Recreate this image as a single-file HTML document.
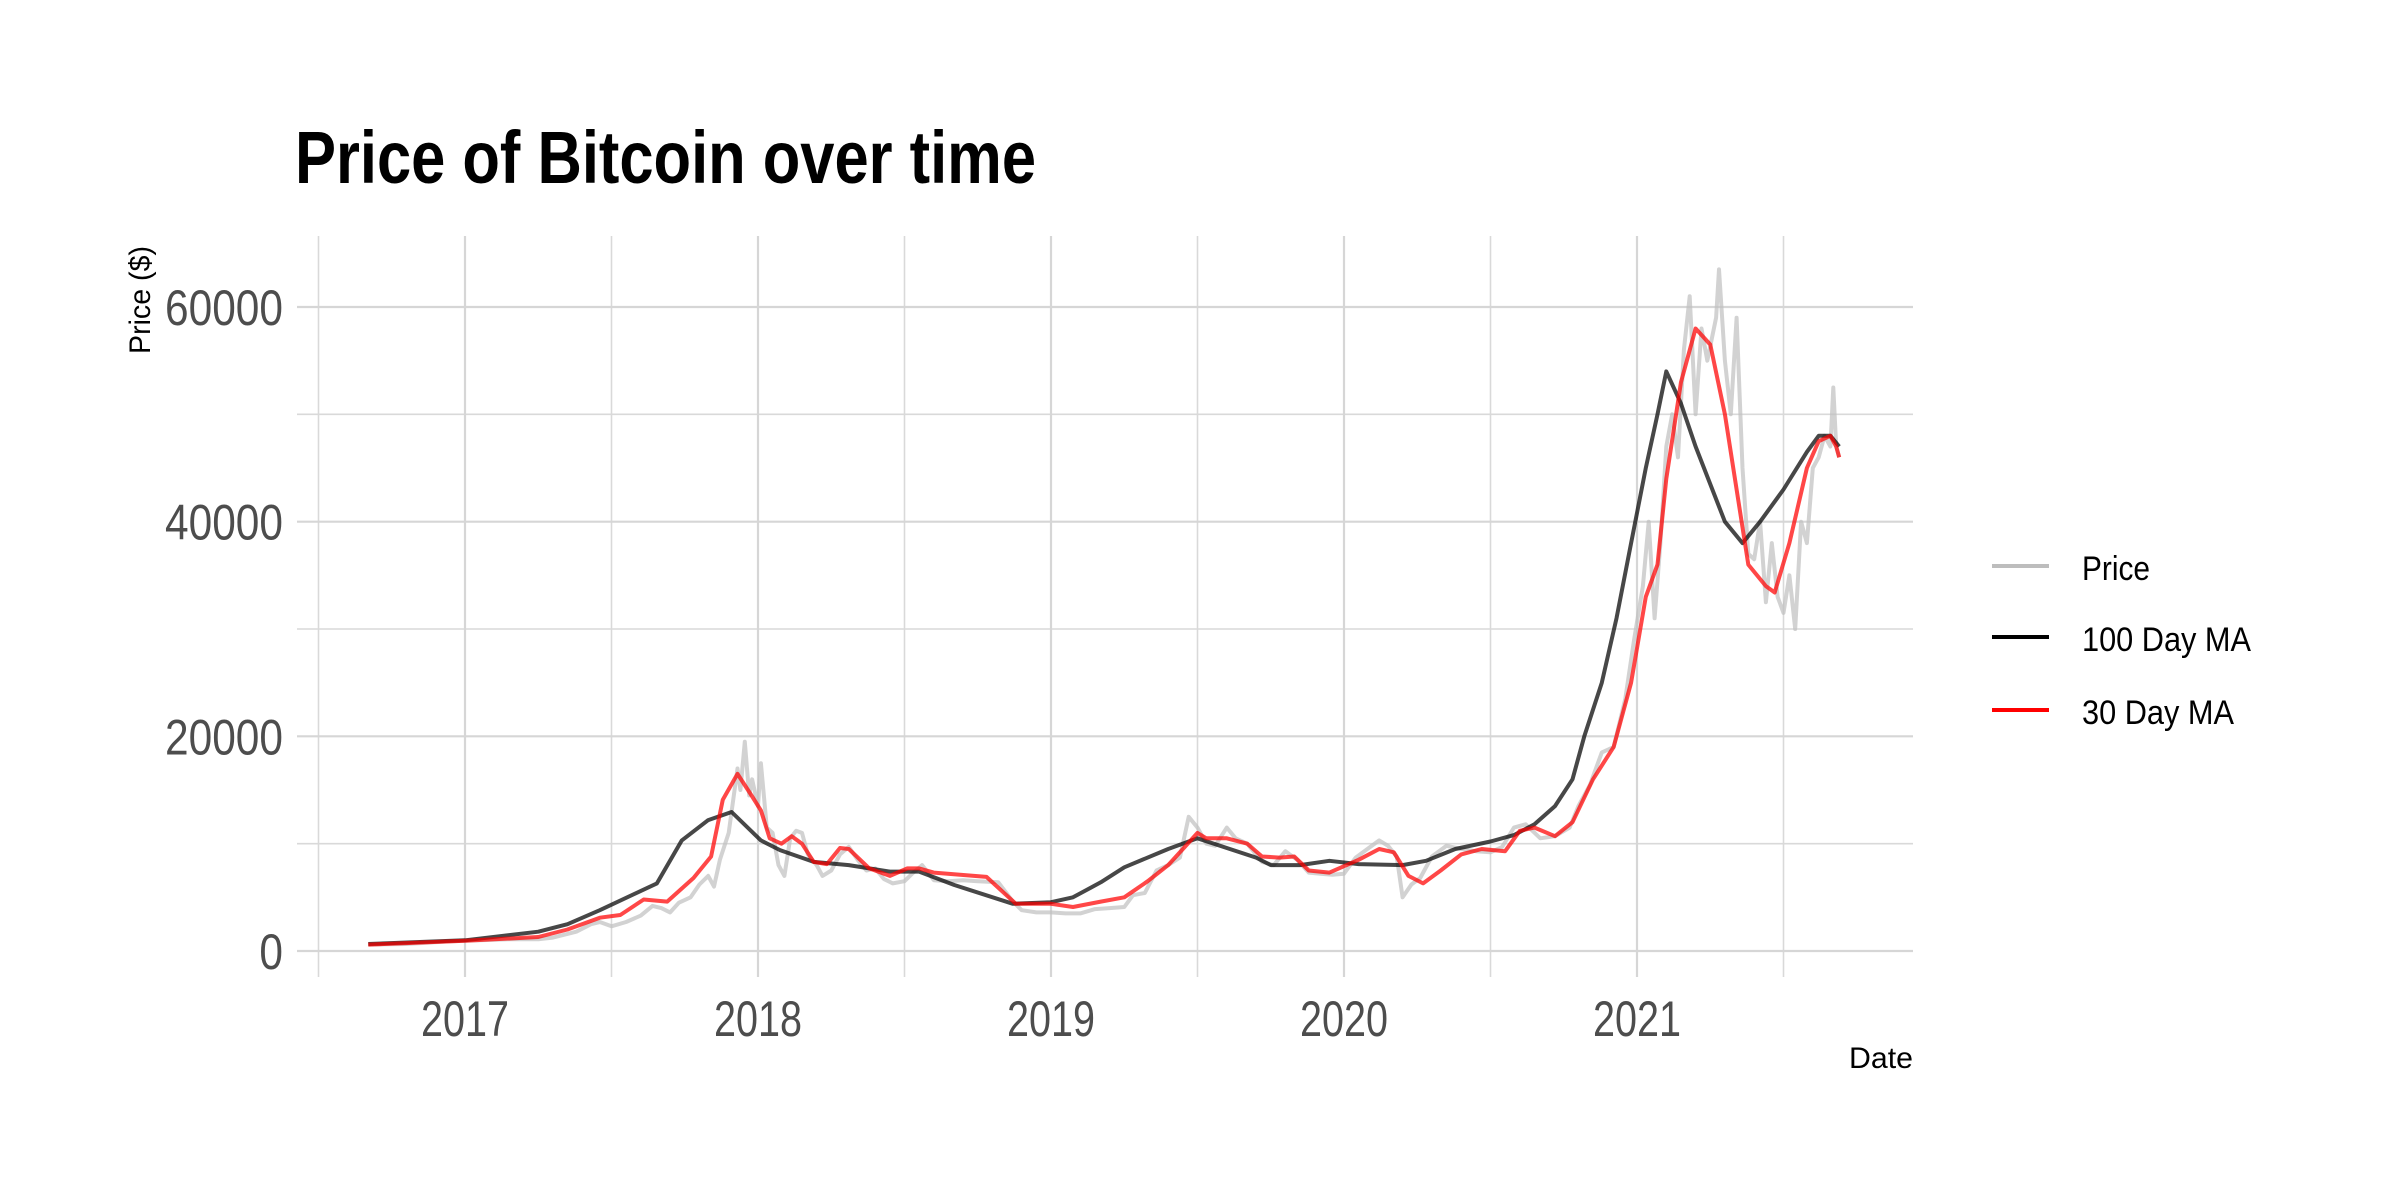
<!DOCTYPE html>
<html><head><meta charset="utf-8"><style>
html,body{margin:0;padding:0;background:#fff;}
svg{display:block;font-family:"Liberation Sans",Arial,sans-serif;}
</style></head><body>
<svg id="chart" width="2400" height="1200" viewBox="0 0 2400 1200">
<rect width="2400" height="1200" fill="#fff"/>
<text x="295" y="183" font-size="74" font-weight="bold" textLength="741" lengthAdjust="spacingAndGlyphs" fill="#000">Price of Bitcoin over time</text>
<g id="grid"></g>
<g id="series"></g>
<g id="axes"></g>
<text transform="translate(150,300) rotate(-90)" text-anchor="middle" font-size="30" textLength="108" lengthAdjust="spacingAndGlyphs" fill="#000">Price ($)</text>
<text x="1913" y="1068" text-anchor="end" font-size="30" textLength="64" lengthAdjust="spacingAndGlyphs" fill="#000">Date</text>
<g>
<g>
<line x1="1992" y1="566" x2="2049" y2="566" stroke="#bdbdbd" stroke-width="4"/>
<text x="2082" y="580" font-size="34" textLength="68" lengthAdjust="spacingAndGlyphs" fill="#000">Price</text></g>
<g>
<line x1="1992" y1="637" x2="2049" y2="637" stroke="#000" stroke-width="4"/>
<text x="2082" y="651" font-size="34" textLength="169" lengthAdjust="spacingAndGlyphs" fill="#000">100 Day MA</text></g>
<g>
<line x1="1992" y1="710" x2="2049" y2="710" stroke="#ff0000" stroke-width="4"/>
<text x="2082" y="724" font-size="34" textLength="152" lengthAdjust="spacingAndGlyphs" fill="#000">30 Day MA</text></g>
</g>
</svg>
<script>
const yTicks=[0,20000,40000,60000];
const yMinor=[10000,30000,50000];
const xTicks=[2017,2018,2019,2020,2021];
const xMinor=[2016.5,2017.5,2018.5,2019.5,2020.5,2021.5];
const priceT=[2016.67,2016.8,2016.95,2017.05,2017.15,2017.25,2017.3,2017.38,2017.43,2017.46,2017.5,2017.55,2017.6,2017.64,2017.67,2017.7,2017.73,2017.77,2017.8,2017.83,2017.85,2017.87,2017.9,2017.93,2017.94,2017.955,2017.97,2017.98,2018.0,2018.01,2018.03,2018.05,2018.07,2018.09,2018.11,2018.13,2018.15,2018.17,2018.2,2018.22,2018.25,2018.28,2018.31,2018.34,2018.37,2018.4,2018.43,2018.46,2018.5,2018.53,2018.56,2018.6,2018.65,2018.7,2018.75,2018.82,2018.87,2018.9,2018.95,2019.0,2019.05,2019.1,2019.15,2019.2,2019.25,2019.28,2019.32,2019.36,2019.4,2019.44,2019.47,2019.5,2019.53,2019.56,2019.6,2019.63,2019.67,2019.72,2019.76,2019.8,2019.84,2019.88,2019.92,2019.96,2020.0,2020.04,2020.08,2020.12,2020.15,2020.18,2020.2,2020.23,2020.26,2020.3,2020.35,2020.4,2020.45,2020.5,2020.54,2020.58,2020.62,2020.67,2020.72,2020.77,2020.8,2020.84,2020.88,2020.92,2020.96,2020.99,2021.02,2021.04,2021.06,2021.08,2021.1,2021.12,2021.14,2021.16,2021.18,2021.2,2021.22,2021.24,2021.27,2021.28,2021.3,2021.32,2021.34,2021.36,2021.38,2021.4,2021.42,2021.44,2021.46,2021.48,2021.5,2021.52,2021.54,2021.56,2021.58,2021.6,2021.62,2021.64,2021.66,2021.67,2021.68,2021.69];
const priceV=[600,650,900,1000,1100,1100,1250,1800,2500,2700,2300,2700,3300,4200,4000,3600,4500,5000,6200,7000,6000,8500,11000,17000,15000,19500,14500,16000,13500,17500,11500,11000,8000,7000,10500,11200,11000,9000,8000,7000,7500,9000,9700,8500,7500,7700,6700,6300,6500,7300,8000,6600,6500,6600,6500,6400,4600,3800,3600,3600,3500,3500,3900,4000,4100,5200,5400,7500,8000,8700,12500,11500,10000,9800,11500,10500,10000,8300,8000,9300,8500,7300,7200,7100,7200,8700,9500,10300,9800,8800,5000,6200,6800,8800,9800,9500,9300,9200,9700,11500,11800,10500,10700,11500,13500,15500,18500,19000,23500,29000,34000,40000,31000,38000,47000,50000,46000,56000,61000,50000,58000,55000,59000,63500,55000,50000,59000,45000,37000,36500,40000,32500,38000,33000,31500,35000,30000,40000,38000,45000,46000,48000,47000,52500,47000,46000];
const ma100T=[2016.67,2017.0,2017.25,2017.35,2017.46,2017.655,2017.74,2017.83,2017.91,2018.01,2018.075,2018.19,2018.31,2018.45,2018.55,2018.67,2018.87,2019.0,2019.075,2019.17,2019.25,2019.4,2019.5,2019.6,2019.7,2019.75,2019.85,2019.95,2020.05,2020.2,2020.28,2020.38,2020.5,2020.58,2020.65,2020.72,2020.78,2020.82,2020.88,2020.93,2020.98,2021.03,2021.07,2021.1,2021.15,2021.2,2021.3,2021.36,2021.42,2021.5,2021.58,2021.62,2021.66,2021.69];
const ma100V=[650,1000,1800,2500,3800,6300,10300,12200,12950,10300,9400,8300,8000,7400,7400,6150,4400,4550,5000,6400,7800,9500,10500,9600,8700,8000,8000,8400,8100,8000,8400,9500,10200,10800,11800,13500,16000,20000,25000,31000,38000,45000,50000,54000,51000,47000,40000,38000,40000,43000,46500,48000,48000,47000];
const ma30T=[2016.67,2017.0,2017.25,2017.35,2017.46,2017.53,2017.61,2017.69,2017.78,2017.84,2017.88,2017.93,2017.98,2018.01,2018.04,2018.08,2018.115,2018.15,2018.19,2018.235,2018.28,2018.31,2018.38,2018.45,2018.51,2018.55,2018.6,2018.78,2018.88,2019.0,2019.075,2019.17,2019.25,2019.33,2019.4,2019.45,2019.5,2019.53,2019.6,2019.67,2019.72,2019.78,2019.83,2019.88,2019.95,2020.05,2020.12,2020.17,2020.22,2020.27,2020.33,2020.4,2020.47,2020.55,2020.6,2020.65,2020.72,2020.78,2020.85,2020.92,2020.98,2021.03,2021.07,2021.1,2021.15,2021.2,2021.25,2021.3,2021.38,2021.44,2021.47,2021.52,2021.58,2021.62,2021.66,2021.68,2021.69];
const ma30V=[600,950,1300,2000,3100,3350,4800,4600,6800,8800,14100,16500,14400,13100,10500,10000,10700,10000,8300,8100,9600,9500,7700,7000,7700,7700,7300,6900,4400,4400,4100,4600,5000,6500,8000,9500,11000,10500,10500,10000,8800,8700,8800,7500,7300,8500,9500,9200,7000,6300,7500,9000,9500,9300,11200,11500,10700,12000,16000,19000,25000,33000,36000,44000,53000,58000,56500,50000,36000,34000,33400,38000,45000,47500,48000,47000,46000];

const NS='http://www.w3.org/2000/svg';
const X=t=>465+(t-2017)*293;
const Y=v=>951-v*644/60000;
const PL=297,PR=1913,PT=236,PB=977;
function mk(tag,attrs,parent){const e=document.createElementNS(NS,tag);for(const k in attrs)e.setAttribute(k,attrs[k]);parent.appendChild(e);return e;}
const grid=document.getElementById('grid'),axes=document.getElementById('axes'),series=document.getElementById('series');
yMinor.forEach(v=>{const l=mk('line',{x1:PL,x2:PR,y1:Y(v),y2:Y(v),stroke:'#d9d9d9','stroke-width':1.6},grid);

});
xMinor.forEach(t=>{const l=mk('line',{x1:X(t),x2:X(t),y1:PT,y2:PB,stroke:'#d9d9d9','stroke-width':1.6},grid);

});
yTicks.forEach(v=>{const l=mk('line',{x1:PL,x2:PR,y1:Y(v),y2:Y(v),stroke:'#d6d6d6','stroke-width':2.2},grid);


const s=String(v);const tx=mk('text',{x:283,y:Y(v)+18,'text-anchor':'end','font-size':50,fill:'#4d4d4d',textLength:s.length*23.6,lengthAdjust:'spacingAndGlyphs'},axes);tx.textContent=s;

});
xTicks.forEach(t=>{const l=mk('line',{x1:X(t),x2:X(t),y1:PT,y2:PB,stroke:'#d6d6d6','stroke-width':2.2},grid);


const tx=mk('text',{x:X(t),y:1036,'text-anchor':'middle','font-size':50,fill:'#4d4d4d',textLength:88,lengthAdjust:'spacingAndGlyphs'},axes);tx.textContent=String(t);

});
function path(ts,vs){return ts.map((t,i)=>(i?'L':'M')+X(t).toFixed(1)+','+Y(vs[i]).toFixed(1)).join('');}
const p1=mk('path',{d:path(priceT,priceV),fill:'none',stroke:'#bfbfbf','stroke-opacity':0.7,'stroke-width':4,'stroke-linejoin':'round'},series);


const p2=mk('path',{d:path(ma100T,ma100V),fill:'none',stroke:'#000','stroke-opacity':0.72,'stroke-width':4,'stroke-linejoin':'round'},series);


const p3=mk('path',{d:path(ma30T,ma30V),fill:'none',stroke:'#ff0000','stroke-opacity':0.72,'stroke-width':4,'stroke-linejoin':'round'},series);


</script>
</body></html>
